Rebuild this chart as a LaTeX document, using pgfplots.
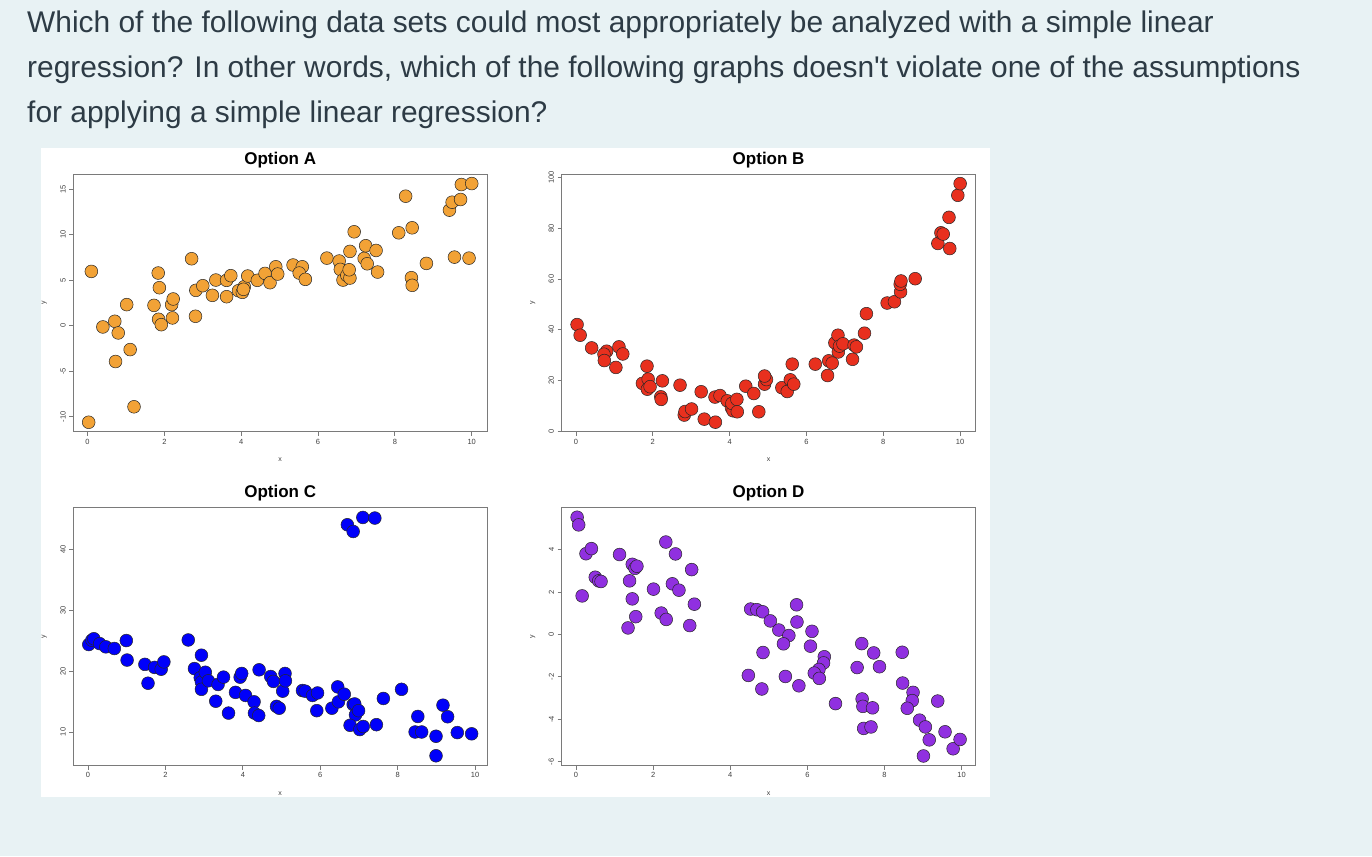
\documentclass[border=0pt]{standalone}
\usepackage{fontspec}
\setmainfont{Liberation Sans}
\usepackage{pgfplots}
\pgfplotsset{compat=1.18}
\definecolor{bgcol}{HTML}{E8F2F4}
\definecolor{txtcol}{HTML}{2D3B45}
\definecolor{colA}{HTML}{F2A236}
\definecolor{colB}{HTML}{E8301E}
\definecolor{colC}{HTML}{0000FA}
\definecolor{colD}{HTML}{9030E0}
\definecolor{axcol}{HTML}{7A7A7A}
\pgfplotsset{
  rplot/.style={
    scale only axis, width=413.8pt, height=257.8pt,
    clip=false,
    axis line style={draw=axcol, line width=0.9pt},
    tick align=outside, xtick pos=bottom, ytick pos=left,
    major tick length=4pt,
    every tick/.style={axcol, line width=0.8pt},
    xtick={0,2,4,6,8,10},
    tick label style={font=\fontsize{7.5}{8}\selectfont, text=black!75},
    /pgf/number format/assume math mode=true,
    yticklabel style={rotate=90, anchor=south, inner sep=3.5pt},
    xticklabel style={inner sep=3pt},
    title style={font=\fontsize{17}{20}\selectfont\bfseries, at={(0.5,1)}, anchor=base, yshift=4pt, text=black},
    only marks,
  },
  rmark/.style={mark=*, mark size=6.4pt, mark options={fill=#1, draw=black!85, line width=0.5pt}},
}
\newcommand{\axlabels}{%
  \node[font=\fontsize{7}{8}\selectfont, text=black!75] at (axis description cs:0.5,0) [yshift=-28pt] {x};
  \node[font=\fontsize{7}{8}\selectfont, text=black!75] at (axis description cs:0,0.5) [xshift=-29pt, rotate=90] {y};
}
\begin{document}
\begin{tikzpicture}
\fill[bgcol] (0pt,0pt) rectangle (1372pt,-856pt);
\fill[white] (41pt,-148pt) rectangle (990pt,-797pt);
\begin{scope}[every node/.style={anchor=base west, inner sep=0pt, text=txtcol, font=\fontsize{29.9}{34}\selectfont}]
\node at (27pt,-33pt) {Which of the following data sets could most appropriately be analyzed with a simple linear};
\node at (27pt,-78pt) {regression? In other words, which of the following graphs doesn\textquotesingle t violate one of the assumptions};
\node at (27pt,-123pt) {for applying a simple linear regression?};
\end{scope}
% Option A
\begin{axis}[rplot, at={(73.3pt,-174pt)}, anchor=north west, title={Option A},
  xmin=-0.37, xmax=10.40, ymin=-11.65, ymax=16.67, ytick={-10,-5,0,5,10,15}]
\addplot[rmark=colA] coordinates {
(0.03,-10.6) (0.10,5.97) (0.40,-0.13) (0.71,0.49) (0.73,-3.93) (0.80,-0.79)
(1.02,2.32) (1.11,-2.62) (1.21,-8.9) (1.73,2.24) (1.84,5.79) (1.87,4.18)
(1.85,0.71) (1.92,0.12) (2.19,2.32) (2.23,2.94) (2.21,0.86) (2.71,7.36)
(2.82,3.89) (2.81,1.04) (3.00,4.40) (3.25,3.34) (3.34,5.02) (3.62,4.99)
(3.62,3.19) (3.73,5.50) (3.93,3.85) (4.03,3.67) (4.08,4.29) (4.06,4.0)
(4.17,5.46) (4.42,4.99) (4.62,5.75) (4.75,4.73) (4.90,6.48) (4.95,5.68)
(5.35,6.67) (5.59,6.48) (5.51,5.79) (5.67,5.10) (6.23,7.43) (6.55,7.11)
(6.58,6.19) (6.65,5.02) (6.75,5.53) (6.83,5.24) (6.81,6.15) (6.83,8.17)
(6.94,10.32) (7.20,7.40) (7.24,8.79) (7.28,6.81) (7.51,8.27) (7.55,5.90)
(8.10,10.21) (8.28,14.23) (8.45,10.76) (8.43,5.28) (8.45,4.44) (8.82,6.85)
(9.42,12.70) (9.49,13.57) (9.71,13.87) (9.73,15.51) (10.0,15.62) (9.55,7.54)
(9.93,7.43)
};
\axlabels
\end{axis}
% Option B
\begin{axis}[rplot, at={(561.7pt,-174pt)}, anchor=north west, title={Option B},
  xmin=-0.37, xmax=10.40, ymin=-0.3, ymax=101.4, ytick={0,20,40,60,80,100}]
\addplot[rmark=colB] coordinates {
(0.03,42.0) (0.11,37.8) (0.41,32.8) (0.80,31.5) (0.73,30.3) (0.74,27.8)
(1.04,25.1) (1.12,33.2) (1.22,30.4) (1.73,18.8) (1.85,25.6) (1.88,20.5)
(1.86,16.5) (1.93,17.5) (2.21,13.5) (2.22,12.5) (2.25,19.8) (2.71,18.1)
(2.82,6.3) (2.84,7.7) (3.01,8.7) (3.26,15.5) (3.34,4.7) (3.63,3.5)
(3.62,13.4) (3.75,14.0) (3.94,11.9) (4.05,9.1) (4.09,8.0) (4.06,10.9)
(4.19,12.5) (4.20,7.6) (4.42,17.7) (4.63,14.8) (4.76,7.6) (4.91,18.5)
(4.96,20.3) (4.91,21.7) (5.36,17.1) (5.50,15.6) (5.58,20.2) (5.67,18.5)
(5.63,26.4) (6.23,26.4) (6.55,21.9) (6.58,27.7) (6.67,26.8) (6.74,34.8)
(6.82,37.8) (6.83,31.2) (6.86,33.5) (6.95,34.4) (7.20,28.3) (7.24,33.9)
(7.30,33.2) (7.51,38.6) (7.56,46.3) (8.10,50.5) (8.29,51.0) (8.45,54.9)
(8.44,57.9) (8.46,59.2) (8.83,60.1) (9.42,74.0) (9.50,78.2) (9.56,77.7)
(9.71,84.3) (9.73,72.0) (9.94,93.0) (10.0,97.6)
};
\axlabels
\end{axis}
% Option C
\begin{axis}[rplot, at={(73.3pt,-507.7pt)}, anchor=north west, title={Option C},
  xmin=-0.38, xmax=10.31, ymin=4.5, ymax=46.8, ytick={10,20,30,40}]
\addplot[rmark=colC] coordinates {
(0.02,24.35) (0.10,25.05) (0.15,25.3) (0.30,24.5) (0.46,23.97) (0.68,23.7)
(0.99,25.0) (1.01,21.8) (1.47,21.1) (1.55,18.0) (1.72,20.6) (1.89,20.3)
(1.96,21.5) (2.59,25.1) (2.75,20.4) (2.93,22.6) (2.90,18.9) (2.93,18.2)
(3.03,19.8) (2.93,17.0) (3.11,18.4) (3.30,15.05) (3.36,17.8) (3.50,19.0)
(3.63,13.1) (3.81,16.5) (3.93,19.0) (3.97,19.6) (4.07,16.0) (4.29,14.95)
(4.30,13.1) (4.41,12.7) (4.42,20.2) (4.72,19.1) (4.79,18.3) (4.87,14.2)
(4.94,13.9) (5.03,16.7) (5.09,19.6) (5.10,18.4) (5.54,16.8) (5.61,16.7)
(5.80,16.0) (5.93,16.4) (5.91,13.5) (6.30,13.9) (6.45,17.4) (6.47,14.95)
(6.62,16.2) (6.70,44.0) (6.85,42.9) (6.85,14.5) (6.89,14.6) (6.91,12.8)
(6.99,13.5) (6.77,11.1) (7.02,10.4) (7.11,10.9) (7.10,45.2) (7.41,45.1)
(7.45,11.2) (7.63,15.5) (8.10,17.0) (8.45,10.0) (8.62,10.0) (8.52,12.55)
(8.99,9.3) (8.99,6.1) (9.17,14.4) (9.29,12.5) (9.54,9.9) (9.91,9.7)
};
\axlabels
\end{axis}
% Option D
\begin{axis}[rplot, at={(561.7pt,-507.7pt)}, anchor=north west, title={Option D},
  xmin=-0.37, xmax=10.36, ymin=-6.18, ymax=5.98, ytick={-6,-4,-2,0,2,4}]
\addplot[rmark=colD] coordinates {
(0.03,5.53) (0.07,5.17) (0.26,3.81) (0.40,4.05) (0.16,1.82) (0.50,2.70)
(0.59,2.53) (0.65,2.50) (1.13,3.77) (1.46,3.31) (1.53,3.12) (1.58,3.22)
(1.39,2.53) (1.46,1.68) (1.55,0.84) (1.35,0.31) (2.01,2.14) (2.21,1.01)
(2.34,0.71) (2.33,4.36) (2.50,2.39) (2.67,2.09) (2.58,3.80) (3.00,3.06)
(3.07,1.43) (2.95,0.42) (4.53,1.20) (4.69,1.17) (4.84,1.07) (4.85,-0.85)
(4.47,-1.93) (4.82,-2.57) (5.04,0.64) (5.26,0.21) (5.52,-0.05) (5.38,-0.44)
(5.43,-1.98) (5.72,1.40) (5.73,0.59) (5.78,-2.42) (6.12,0.15) (6.08,-0.55)
(6.44,-1.05) (6.42,-1.34) (6.30,-1.65) (6.18,-1.82) (6.31,-2.07) (6.73,-3.26)
(7.29,-1.56) (7.41,-0.43) (7.72,-0.87) (7.87,-1.52) (7.42,-3.04) (7.44,-3.39)
(7.69,-3.46) (7.46,-4.43) (7.65,-4.36) (8.46,-0.84) (8.47,-2.29) (8.74,-2.73)
(8.72,-3.12) (8.59,-3.48) (8.91,-4.04) (9.06,-4.36) (9.16,-4.97) (9.01,-5.73)
(9.38,-3.14) (9.57,-4.59) (9.78,-5.39) (9.96,-4.95)
};
\axlabels
\end{axis}
\end{tikzpicture}
\end{document}
